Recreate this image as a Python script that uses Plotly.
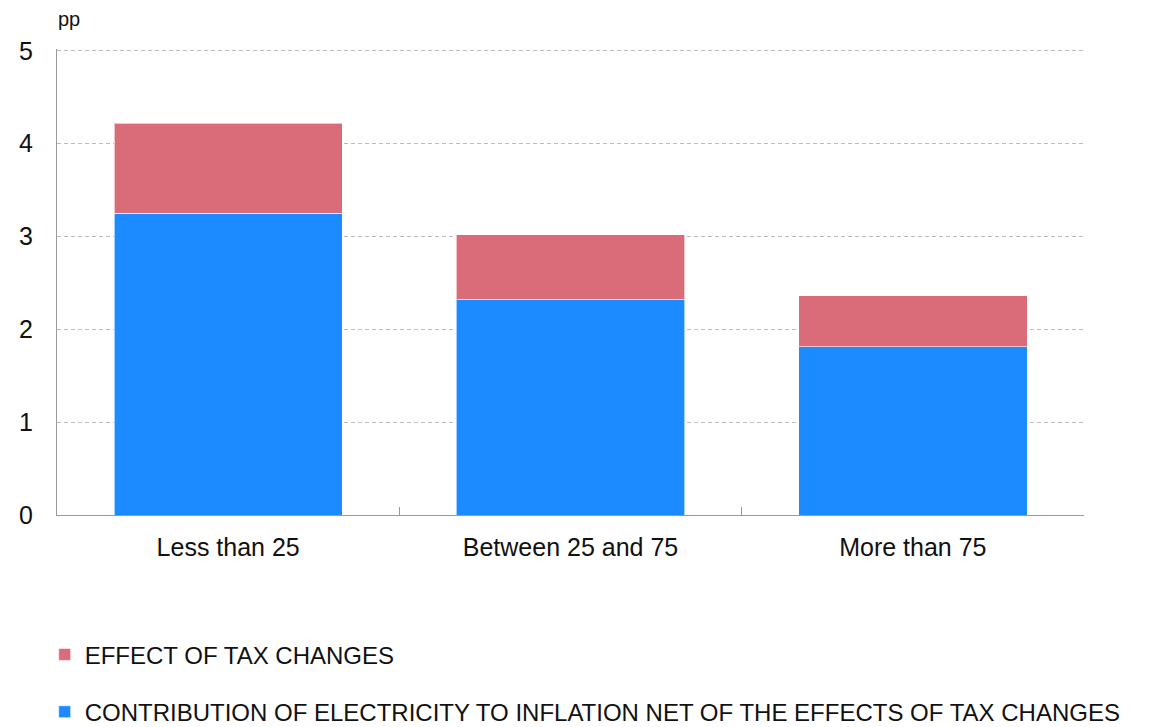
import plotly.graph_objects as go

categories = ["Less than 25", "Between 25 and 75", "More than 75"]
electricity_net = [3.25, 2.32, 1.815]
tax_effect = [0.97, 0.70, 0.545]
y_ticks = [0, 1, 2, 3, 4, 5]

name_tax = "EFFECT OF TAX CHANGES"
name_elec = "CONTRIBUTION OF ELECTRICITY TO INFLATION NET OF THE EFFECTS OF TAX CHANGES"

FONT = "Liberation Sans, Arial, Helvetica, sans-serif"
BLUE = "#1b8bff"
RED = "#da6c79"

fig = go.Figure()
fig.add_trace(go.Bar(
    x=categories, y=electricity_net, name=name_elec,
    marker=dict(color=BLUE, line=dict(color="rgba(255,255,255,0.6)", width=1)),
    legend="legend2", showlegend=True,
))
fig.add_trace(go.Bar(
    x=categories, y=tax_effect, name=name_tax,
    marker=dict(color=RED, line=dict(color="rgba(255,255,255,0.6)", width=1)),
    legend="legend", showlegend=True,
))

fig.update_layout(
    width=1160, height=719,
    showlegend=True,
    barmode="stack",
    bargap=0.333,
    plot_bgcolor="white",
    paper_bgcolor="white",
    font=dict(family=FONT, size=25, color="#111111"),
    margin=dict(l=49, r=84, t=41, b=212, autoexpand=False),
    xaxis=dict(
        showline=True, linecolor="#9a9a9a", linewidth=1,
        ticks="inside", tickson="boundaries", ticklen=8, tickcolor="#9a9a9a",
        showgrid=False, tickfont=dict(size=25), ticklabelstandoff=10,
    ),
    yaxis=dict(
        range=[0, 5.02], tickvals=y_ticks,
        showline=True, linecolor="#9a9a9a", linewidth=1,
        showgrid=True, gridcolor="#bdbdbd", griddash="4px,3px", gridwidth=1,
        zeroline=False, ticks="", ticklabelstandoff=18,
        tickfont=dict(size=25),
    ),
    legend=dict(
        x=-0.012, xanchor="left", y=-0.300, yanchor="middle",
        orientation="v", font=dict(size=24), bgcolor="rgba(0,0,0,0)",
    ),
    legend2=dict(
        x=-0.012, xanchor="left", y=-0.423, yanchor="middle",
        orientation="v", font=dict(size=24), bgcolor="rgba(0,0,0,0)",
    ),
    annotations=[dict(
        text="pp", xref="paper", yref="paper", x=0, y=1, xanchor="left",
        yanchor="bottom", yshift=17, xshift=-1, showarrow=False, font=dict(size=20),
    )],
)

fig.write_html("out.html")
